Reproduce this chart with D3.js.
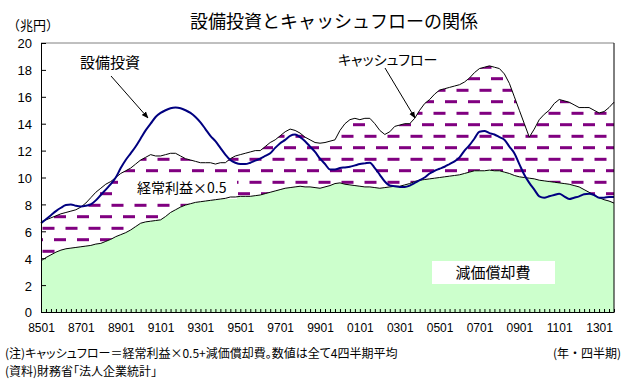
<!DOCTYPE html>
<html>
<head>
<meta charset="utf-8">
<script src="https://cdn.jsdelivr.net/npm/d3@7"></script>
<style>
  body { margin: 0; background: #fff; }
  text { font-family: "Noto Sans CJK JP", sans-serif; fill: #000; }
  .num text, text.num { font-family: "Liberation Sans", Arial, sans-serif; }
</style>
</head>
<body>
<svg id="chart" width="623" height="380"></svg>
<script>
// quarterly categories 8501 .. 1304
const quarters = [];
for (let yr = 1985; yr <= 2013; yr++) {
  for (let q = 1; q <= 4; q++) quarters.push(String(yr % 100).padStart(2, '0') + '0' + q);
}
const xTickLabels = ['8501','8701','8901','9101','9301','9501','9701','9901','0101','0301','0501','0701','0901','1101','1301'];
const yTicks = [0, 2, 4, 6, 8, 10, 12, 14, 16, 18, 20];

// 設備投資 (兆円, 4四半期平均)
const capex = [
  6.6, 6.9, 7.2, 7.5, 7.75, 7.95, 8.0, 7.9, 7.85, 7.9,
  8.0, 8.3, 8.7, 9.1, 9.5, 10.0, 10.7, 11.3, 11.8, 12.3,
  12.9, 13.5, 14.0, 14.5, 14.8, 15.0, 15.15, 15.2, 15.15, 15.0,
  14.8, 14.5, 14.1, 13.6, 13.1, 12.7, 12.2, 11.7, 11.3, 11.1,
  11.0, 11.0, 11.1, 11.25, 11.4, 11.6, 11.8, 12.2, 12.55, 12.8,
  13.1, 13.2, 13.0, 12.7, 12.3, 11.9, 11.4, 11.0, 10.6, 10.6,
  10.7, 10.75, 10.8, 10.9, 11.0, 11.05, 11.1, 10.7, 10.2, 9.7,
  9.4, 9.35, 9.3, 9.3, 9.4, 9.6, 9.8, 10.0, 10.3, 10.5,
  10.65, 10.8, 11.0, 11.2, 11.5, 12.0, 12.4, 12.9, 13.4, 13.45,
  13.3, 13.2, 13.0, 12.8, 12.3, 11.8, 11.0, 10.2, 9.6, 9.1,
  8.6, 8.5, 8.6, 8.7, 8.8, 8.6, 8.4, 8.5, 8.6, 8.75,
  8.8, 8.7, 8.5, 8.5, 8.55, 8.55
];

// キャッシュフロー = 経常利益×0.5 + 減価償却費
const cashflow = [
  6.7, 6.85, 7.0, 7.15, 7.3, 7.4, 7.5, 7.6, 7.8, 8.1,
  8.5, 8.9, 9.2, 9.5, 9.7, 10.0, 10.3, 10.5, 10.7, 11.0,
  11.3, 11.5, 11.7, 11.6, 11.6, 11.7, 11.8, 11.8, 11.6, 11.4,
  11.3, 11.2, 11.1, 11.1, 11.1, 11.0, 11.1, 11.1, 11.4, 11.6,
  11.7, 11.8, 11.9, 12.0, 12.0, 12.3, 12.6, 12.8, 13.1, 13.4,
  13.6, 13.5, 13.3, 13.0, 12.8, 12.6, 12.55, 12.6, 12.7, 12.8,
  13.5, 14.0, 14.3, 14.4, 14.3, 14.4, 14.4, 14.0, 13.5, 13.2,
  13.4, 13.8, 13.9, 14.0, 14.0, 14.4, 15.0, 15.5, 15.8, 16.2,
  16.5, 16.6, 16.7, 16.8, 16.9, 17.1, 17.4, 17.8, 18.1, 18.2,
  18.3, 18.2, 18.1, 17.7, 17.0, 16.0, 15.0, 14.0, 13.0, 13.6,
  14.3, 14.7, 15.0, 15.5, 15.8, 15.7, 15.6, 15.4, 15.2, 15.2,
  15.2, 15.0, 14.8, 14.9, 15.2, 15.6
];

// 減価償却費
const depreciation = [
  3.8, 4.05, 4.25, 4.45, 4.6, 4.7, 4.75, 4.8, 4.85, 4.9,
  4.95, 5.05, 5.1, 5.25, 5.4, 5.6, 5.75, 5.9, 6.1, 6.35,
  6.6, 6.7, 6.75, 6.8, 6.85, 7.1, 7.4, 7.6, 7.8, 7.95,
  8.05, 8.15, 8.2, 8.25, 8.3, 8.35, 8.4, 8.45, 8.55, 8.55,
  8.6, 8.6, 8.6, 8.65, 8.7, 8.8, 8.9, 9.0, 9.1, 9.2,
  9.25, 9.3, 9.35, 9.3, 9.3, 9.25, 9.2, 9.3, 9.4, 9.55,
  9.6, 9.5, 9.45, 9.4, 9.35, 9.3, 9.3, 9.25, 9.2, 9.25,
  9.3, 9.35, 9.35, 9.45, 9.55, 9.7, 9.8, 9.85, 9.9, 9.95,
  10.0, 10.05, 10.1, 10.15, 10.2, 10.3, 10.4, 10.5, 10.5, 10.5,
  10.55, 10.5, 10.5, 10.4, 10.3, 10.15, 10.05, 10.0, 9.95, 9.9,
  9.8, 9.75, 9.7, 9.65, 9.6, 9.55, 9.5, 9.4, 9.3, 9.1,
  8.9, 8.7, 8.5, 8.35, 8.25, 8.1
];

const rows = quarters.map((q, i) => ({
  q, capex: capex[i], cf: cashflow[i], dep: depreciation[i]
}));

const plot = { left: 41, right: 614, top: 43, bottom: 312 };
const svg = d3.select('#chart');

const x = d3.scalePoint().domain(quarters).range([plot.left, plot.right]);
const y = d3.scaleLinear().domain([0, 20]).range([plot.bottom, plot.top]);

// dashed purple pattern for the profit part
const defs = svg.append('defs');
const pat = defs.append('pattern')
  .attr('id', 'dash')
  .attr('patternUnits', 'userSpaceOnUse')
  .attr('width', 23)
  .attr('height', 23);
pat.append('rect').attr('width', 23).attr('height', 23).attr('fill', '#fff');
pat.append('rect').attr('x', 8).attr('y', 8.2).attr('width', 12).attr('height', 3).attr('fill', '#800080');
pat.append('rect').attr('x', 19.5).attr('y', 19.8).attr('width', 3.5).attr('height', 3).attr('fill', '#800080');
pat.append('rect').attr('x', 0).attr('y', 19.8).attr('width', 8.5).attr('height', 3).attr('fill', '#800080');

defs.append('marker')
  .attr('id', 'arrow')
  .attr('viewBox', '0 0 10 10')
  .attr('refX', 9)
  .attr('refY', 5)
  .attr('markerWidth', 7)
  .attr('markerHeight', 7)
  .attr('orient', 'auto')
  .append('path')
  .attr('d', 'M0,1 L10,5 L0,9 Z')
  .attr('fill', '#000');

// areas
svg.append('path')
  .datum(rows)
  .attr('fill', 'url(#dash)')
  .attr('d', d3.area().x(d => x(d.q)).y0(d => y(d.dep)).y1(d => y(d.cf)));

svg.append('path')
  .datum(rows)
  .attr('fill', '#ccffcc')
  .attr('d', d3.area().x(d => x(d.q)).y0(y(0)).y1(d => y(d.dep)));

// white boxes behind the in-plot labels
svg.append('rect').attr('x', 118).attr('y', 177).attr('width', 119).attr('height', 22).attr('fill', '#fff');
svg.append('rect').attr('x', 432).attr('y', 261).attr('width', 123).attr('height', 23).attr('fill', '#fff');

// lines
const line = key => d3.line().x(d => x(d.q)).y(d => y(d[key]));
svg.append('path').datum(rows).attr('fill', 'none').attr('stroke', '#000').attr('stroke-width', 1).attr('d', line('cf'));
svg.append('path').datum(rows).attr('fill', 'none').attr('stroke', '#000').attr('stroke-width', 1).attr('d', line('dep'));
svg.append('path').datum(rows)
  .attr('fill', 'none')
  .attr('stroke', '#000080')
  .attr('stroke-width', 2)
  .attr('d', line('capex').curve(d3.curveMonotoneX));

// plot frame
svg.append('line').attr('x1', plot.left).attr('x2', plot.right).attr('y1', plot.top).attr('y2', plot.top).attr('stroke', '#808080');
svg.append('line').attr('x1', plot.right).attr('x2', plot.right).attr('y1', plot.top).attr('y2', plot.bottom).attr('stroke', '#000');

// axes
const yAxis = svg.append('g')
  .attr('class', 'num')
  .attr('transform', `translate(${plot.left},0)`)
  .call(d3.axisLeft(y).tickValues(yTicks).tickSize(-5).tickSizeOuter(0).tickPadding(9));
yAxis.selectAll('text').attr('font-size', 13).attr('dy', '0.38em');
yAxis.selectAll('line, path').attr('stroke', '#000');

const xAxis = svg.append('g')
  .attr('class', 'num')
  .attr('transform', `translate(0,${plot.bottom})`)
  .call(d3.axisBottom(x).tickSize(-3).tickSizeOuter(0).tickPadding(16)
    .tickFormat(d => xTickLabels.includes(d) ? d : ''));
xAxis.selectAll('text').attr('font-size', 12).attr('dy', '0.3em');
xAxis.selectAll('line, path').attr('stroke', '#000');

// titles and notes
svg.append('text').attr('x', 334).attr('y', 28).attr('text-anchor', 'middle')
  .attr('font-size', 18).text('設備投資とキャッシュフローの関係');
svg.append('text').attr('x', 7).attr('y', 30).attr('font-size', 13).text('（兆円）');

svg.append('text').attr('x', 80).attr('y', 68).attr('font-size', 15).text('設備投資');
svg.append('line').attr('x1', 111).attr('y1', 76).attr('x2', 148).attr('y2', 118)
  .attr('stroke', '#000').attr('marker-end', 'url(#arrow)');

svg.append('text').attr('x', 338).attr('y', 65).attr('font-size', 14)
  .style('font-feature-settings', '"palt"').text('キャッシュフロー');
svg.append('line').attr('x1', 385).attr('y1', 68).attr('x2', 415).attr('y2', 118)
  .attr('stroke', '#000').attr('marker-end', 'url(#arrow)');

svg.append('text').attr('x', 137).attr('y', 193).attr('font-size', 14).text('経常利益×0.5');
svg.append('text').attr('x', 493).attr('y', 278).attr('text-anchor', 'middle').attr('font-size', 15).text('減価償却費');

svg.append('text').attr('x', 5).attr('y', 358).attr('font-size', 12)
  .style('font-feature-settings', '"palt"')
  .text('(注)キャッシュフロー＝経常利益×0.5+減価償却費。数値は全て4四半期平均');
svg.append('text').attr('x', 621).attr('y', 358).attr('text-anchor', 'end').attr('font-size', 12)
  .text('(年・四半期)');
svg.append('text').attr('x', 5).attr('y', 376).attr('font-size', 12)
  .style('font-feature-settings', '"palt"')
  .text('(資料)財務省「法人企業統計」');
</script>
</body>
</html>
